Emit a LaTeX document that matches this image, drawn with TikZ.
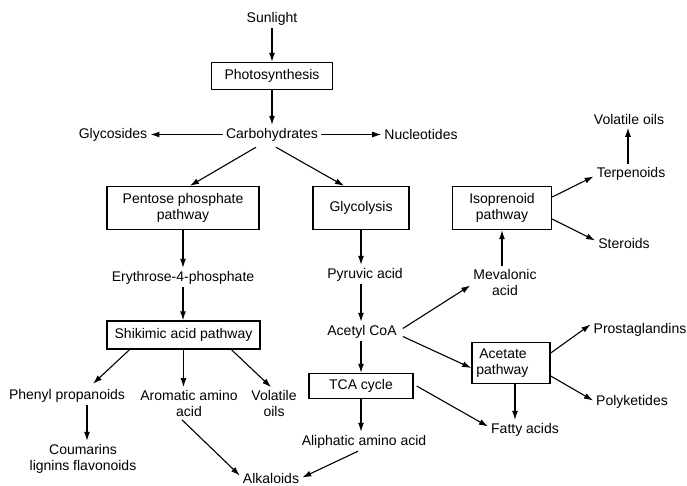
\documentclass[tikz,border=0pt]{standalone}
\usepackage{fontspec}
\setmainfont{Liberation Sans}
\usetikzlibrary{arrows.meta}
\tikzset{
  fnt/.style={font=\fontsize{14}{16}\selectfont, align=center},
  txt/.style={fnt, inner sep=3pt, yshift=-1.5pt},
  box/.style={fnt, draw, line width=1.4pt, inner sep=2pt},
  arr/.style={line width=1.1pt, -{Latex[length=9pt,width=6pt]}}
}
\begin{document}
\begin{tikzpicture}[x=1pt,y=-1pt]
\useasboundingbox (0,0) rectangle (687,485);
% nodes
\node[txt] (sun) at (272,17) {Sunlight};
\node[box, minimum width=121, minimum height=27] (photo) at (272,76) {Photosynthesis};
\node[txt] (carb) at (272,133) {Carbohydrates};
\node[txt] (glyco) at (113,133) {Glycosides};
\node[txt] (nuc) at (421,133) {Nucleotides};
\node[box, minimum width=152, minimum height=43] (pent) at (183,208) {Pentose phosphate\\pathway};
\node[box, minimum width=96, minimum height=43] (glyc) at (361,208) {Glycolysis};
\node[box, minimum width=99, minimum height=43] (iso) at (502,208) {Isoprenoid\\pathway};
\node[txt] (terp) at (631,172) {Terpenoids};
\node[txt] (vtop) at (629,118) {Volatile oils};
\node[txt] (ster) at (624,242) {Steroids};
\node[txt] (eryth) at (183,276) {Erythrose-4-phosphate};
\node[box, minimum width=153, minimum height=28] (shik) at (183.5,335) {Shikimic acid pathway};
\node[txt] (phen) at (67,394) {Phenyl propanoids};
\node[txt] (arom) at (189,402) {Aromatic amino\\acid};
\node[txt] (vlow) at (274,402) {Volatile\\oils};
\node[txt] (coum) at (83,457) {Coumarins\\lignins flavonoids};
\node[txt, inner sep=1pt] (alk) at (271,477) {Alkaloids};
\node[txt] (pyr) at (365,273) {Pyruvic acid};
\node[txt] (acet) at (362,330) {Acetyl CoA};
\node[box, minimum width=104, minimum height=25] (tca) at (361,386) {TCA cycle};
\node[txt] (aliph) at (364,440) {Aliphatic amino acid};
\node[txt] (fatty) at (525,428) {Fatty acids};
\node[txt] (mev) at (505,281) {Mevalonic\\acid};
\node[box, minimum height=41, inner xsep=4.3pt, text width=69.4pt, align=left] (acp) at (511,363) {\hspace*{3pt}Acetate\\pathway};
\node[txt] (prost) at (640,328) {Prostaglandins};
\node[txt] (poly) at (632,400) {Polyketides};
% connectors
\draw[arr] (sun) -- (photo);
\draw[arr] (photo) -- (carb);
\draw[arr] (carb) -- (glyco);
\draw[arr] (carb) -- (nuc);
\draw[arr] ([xshift=-16pt,yshift=-3pt]carb.south) -- ([xshift=7pt]pent.north);
\draw[arr] ([xshift=4pt,yshift=-3pt]carb.south) -- ([xshift=-17pt]glyc.north);
\draw[arr] ([yshift=11pt]iso.east) -- ([yshift=-3pt]terp.west);
\draw[arr] ([yshift=-11pt]iso.east) -- ([yshift=3pt]ster.west);
\draw[arr] ([xshift=-3pt]terp.north) -- ([xshift=-3pt]terp.north |- vtop.south);
\draw[arr] (pent) -- (eryth);
\draw[arr] (eryth) -- (eryth |- shik.north);
\draw[arr] ([xshift=-54pt]shik.south) -- ([xshift=26pt,yshift=2pt]phen.north);
\draw[arr] (shik.south) -- (shik.south |- arom.north);
\draw[arr] ([xshift=48pt]shik.south) -- ([xshift=-3pt]vlow.north);
\draw[arr] ([xshift=20pt]phen.south) -- ([xshift=20pt]phen.south |- coum.north);
\draw[arr] ([xshift=-7pt]arom.south) -- ([xshift=-2pt,yshift=3pt]alk.west);
\draw[arr] ([xshift=-6pt]aliph.south) -- ([xshift=2pt,yshift=1pt]alk.east);
\draw[arr] (glyc.south) -- (glyc.south |- pyr.north);
\draw[arr] (glyc.south |- pyr.south) -- (glyc.south |- acet.north);
\draw[arr] (glyc.south |- acet.south) -- (glyc.south |- tca.north);
\draw[arr] (glyc.south |- tca.south) -- (glyc.south |- aliph.north);
\draw[arr] ([xshift=3pt]tca.east) -- ([yshift=3pt]fatty.west);
\draw[arr] ([xshift=3pt,yshift=3pt]acet.east) -- ([yshift=-3pt]mev.west);
\draw[arr] ([xshift=3pt,yshift=-5pt]acet.east) -- ([yshift=-5pt]acp.west);
\draw[arr] ([xshift=-3pt]mev.north) -- ([xshift=-3pt]mev.north |- iso.south);
\draw[arr] ([xshift=4pt]acp.south) -- ([xshift=4pt]acp.south |- fatty.north);
\draw[arr] ([yshift=10pt]acp.east) -- ([yshift=5pt]prost.west);
\draw[arr] ([yshift=-13pt]acp.east) -- ([yshift=1pt]poly.west);
\end{tikzpicture}
\end{document}
